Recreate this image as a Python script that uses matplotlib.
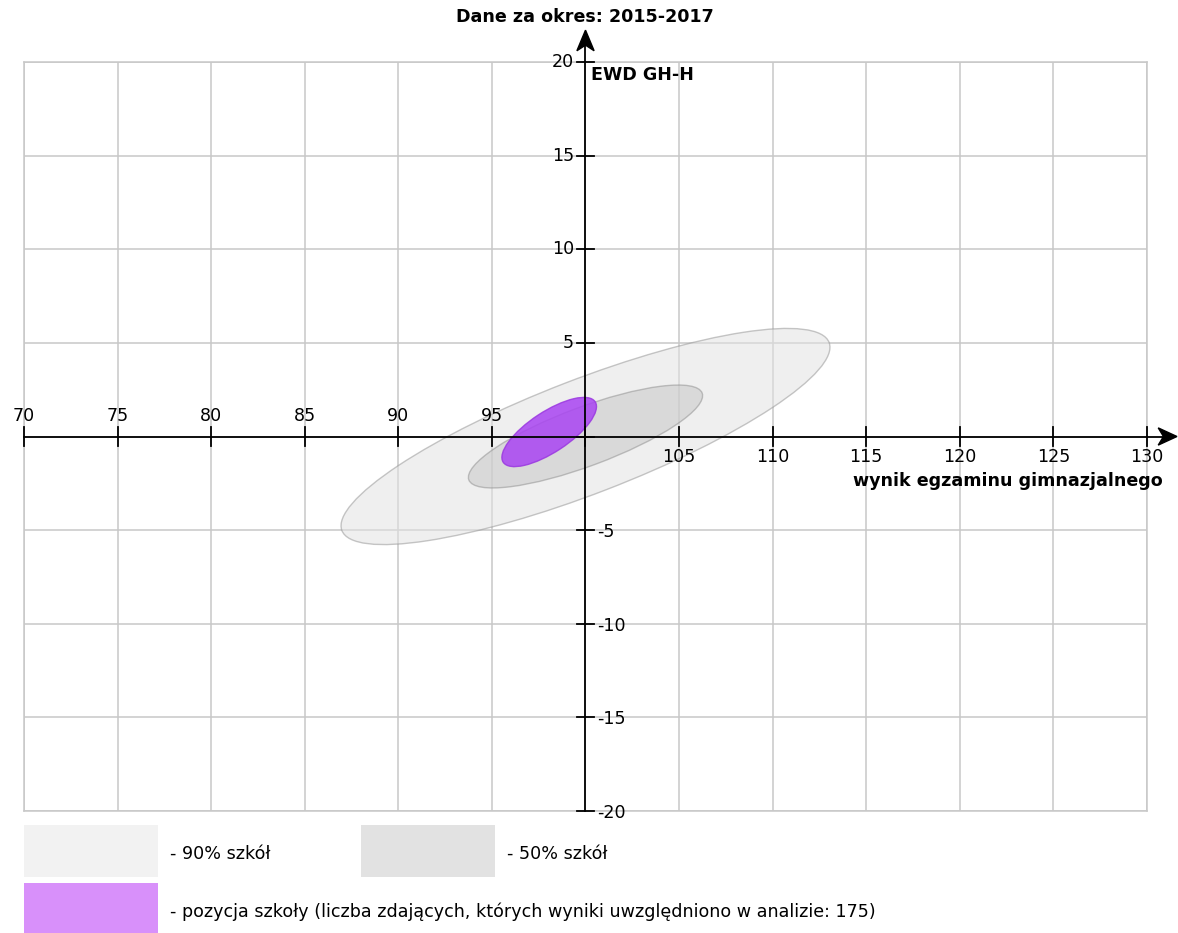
import matplotlib.pyplot as plt
from matplotlib.patches import Ellipse, Rectangle, Polygon

x_ticks = list(range(70, 131, 5))
y_ticks = list(range(-20, 21, 5))

# ellipses: center x, center y, full width, full height, angle (deg)
band90 = (100.0, 0.0, 27.9, 6.1, 21.1)
band50 = (100.0, 0.0, 13.3, 3.15, 20.4)
school = (98.06, 0.24, 5.88, 2.16, 33.3)

title = 'Dane za okres: 2015-2017'
ylabel = 'EWD GH-H'
xlabel = 'wynik egzaminu gimnazjalnego'
legend_labels = ['- 90% szkół', '- 50% szkół',
                 '- pozycja szkoły (liczba zdających, których wyniki uwzględniono w analizie: 175)']

FS = 12.6
W, H = 1178, 933
fig = plt.figure(figsize=(W / 100, H / 100), dpi=100)
ax = fig.add_axes([24 / W, 1 - 811 / H, 1123 / W, 749 / H])
ax.set_xlim(70, 130)
ax.set_ylim(-20, 20)

ax.set_xticks(x_ticks)
ax.set_yticks(y_ticks)
ax.grid(color='#c8c8c8', lw=1.1)
ax.set_axisbelow(True)
ax.tick_params(length=0, labelbottom=False, labelleft=False)
for s in ax.spines.values():
    s.set_color('#c8c8c8')
    s.set_linewidth(1.1)

# ellipses
for (cx, cy, w, h, ang), fc, ec, al in [(band90, '#e2e2e2', '#999999', 0.55),
                                        (band50, '#c4c4c4', '#8c8c8c', 0.5),
                                        (school, '#a944f2', '#9a38e0', 0.85)]:
    ax.add_patch(Ellipse((cx, cy), w, h, angle=ang, facecolor=fc, edgecolor=ec,
                         alpha=al, lw=1, zorder=2))

# axes through (100, 0) with stealth-like heads
x_tip, y_tip = 131.6, 21.7
ax.plot([70, x_tip - 0.5], [0, 0], color='black', lw=1.3, clip_on=False, zorder=4)
ax.plot([100, 100], [-20, y_tip - 0.5], color='black', lw=1.3, clip_on=False, zorder=4)
ax.add_patch(Polygon([(x_tip, 0), (x_tip - 1.0, 0.46), (x_tip - 0.72, 0), (x_tip - 1.0, -0.46)],
                     closed=True, color='black', clip_on=False, zorder=5))
ax.add_patch(Polygon([(100, y_tip), (100.46, y_tip - 1.1), (100, y_tip - 0.8), (99.54, y_tip - 1.1)],
                     closed=True, color='black', clip_on=False, zorder=5))

for x in x_ticks:
    ax.plot([x, x], [-0.5, 0.5], color='black', lw=1.3, clip_on=False, zorder=4)
    if x < 100:
        ax.text(x, 0.6, str(x), ha='center', va='bottom', fontsize=FS)
    elif x > 100:
        ax.text(x, -0.6, str(x), ha='center', va='top', fontsize=FS)

for y in y_ticks:
    ax.plot([99.52, 100.48], [y, y], color='black', lw=1.3, clip_on=False, zorder=4)
    if y > 0:
        ax.text(99.4, y, str(y), ha='right', va='center', fontsize=FS)
    elif y < 0:
        ax.text(100.6, y - 0.1, str(y), ha='left', va='center', fontsize=FS)

fig.text(585 / W, 1 - 17 / H, title, ha='center', va='center', fontsize=FS, fontweight='bold')
ax.text(100.3, 19.3, ylabel, ha='left', va='center', fontsize=FS, fontweight='bold')
ax.text(130.85, -2.35, xlabel, ha='right', va='center', fontsize=FS, fontweight='bold')

# legend boxes
boxes = [(24, 825, '#f2f2f2'), (361, 825, '#e2e2e2'), (24, 883, '#d890fa')]
for (px, py, c), lab in zip(boxes, legend_labels):
    fig.patches.append(Rectangle((px / W, 1 - (py + 52) / H), 134 / W, 52 / H,
                                 transform=fig.transFigure, facecolor=c, edgecolor='none'))
    fig.text((px + 146) / W, 1 - (py + 29) / H, lab, ha='left', va='center', fontsize=FS)

fig.savefig('out.png', dpi=100)
